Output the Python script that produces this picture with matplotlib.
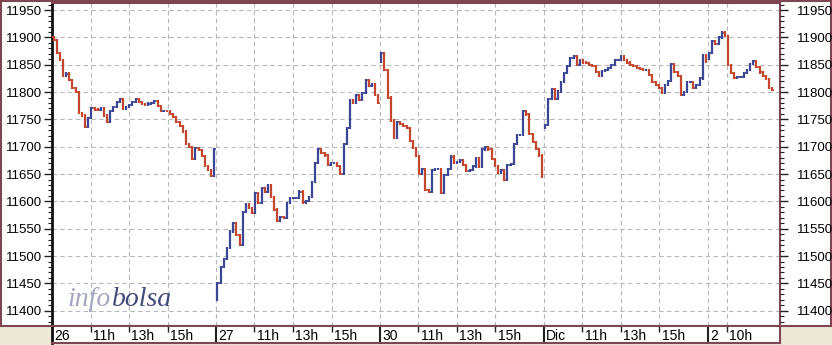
import matplotlib
matplotlib.use('Agg')
import matplotlib.pyplot as plt
from matplotlib.patches import Rectangle
import numpy as np

# ---------------- data (10-minute closes) ----------------
day_labels = ['26', '27', '30', 'Dic', '2']
hour_ticks = [[11, 13, 15], [11, 13, 15], [11, 13, 15], [11, 13, 15], [10]]
hour_labels = [['11h', '13h', '15h'], ['11h', '13h', '15h'], ['11h', '13h', '15h'],
               ['11h', '13h', '15h'], ['10h']]

opens = [11900, 11420, 11855, 11735, 11860]

close_26 = [11895, 11872, 11858, 11830, 11834, 11822, 11808, 11800, 11762, 11757,
            11737, 11752, 11770, 11768, 11767, 11770, 11757, 11745, 11765, 11772,
            11782, 11788, 11770, 11773, 11776, 11782, 11788, 11782, 11778, 11776,
            11779, 11780, 11783, 11775, 11766, 11766, 11765, 11760, 11754, 11745,
            11738, 11728, 11705, 11700, 11678, 11697, 11694, 11683, 11665, 11658,
            11646, 11695]
close_27 = [11450, 11480, 11494, 11515, 11545, 11560, 11538, 11520, 11580, 11595,
            11588, 11579, 11615, 11597, 11625, 11617, 11630, 11608, 11585, 11565,
            11572, 11570, 11597, 11606, 11606, 11606, 11618, 11598, 11601, 11608,
            11635, 11670, 11695, 11688, 11684, 11667, 11670, 11670, 11665, 11650,
            11705, 11735, 11785, 11780, 11795, 11785, 11798, 11822, 11812, 11814,
            11795, 11780]
close_30 = [11871, 11840, 11790, 11748, 11716, 11745, 11742, 11738, 11735, 11710,
            11698, 11683, 11650, 11660, 11621, 11618, 11658, 11660, 11660, 11615,
            11648, 11660, 11682, 11670, 11672, 11675, 11666, 11655, 11658, 11664,
            11679, 11664, 11695, 11700, 11695, 11678, 11665, 11653, 11658, 11640,
            11667, 11668, 11705, 11722, 11722, 11765, 11759, 11724, 11708, 11696,
            11684, 11645]
close_01 = [11740, 11788, 11806, 11787, 11801, 11819, 11835, 11847, 11862, 11866,
            11850, 11859, 11854, 11853, 11850, 11848, 11837, 11830, 11838, 11841,
            11844, 11850, 11858, 11859, 11865, 11858, 11854, 11850, 11847, 11844,
            11842, 11840, 11841, 11831, 11818, 11813, 11807, 11798, 11813, 11821,
            11852, 11837, 11830, 11795, 11800, 11818, 11819, 11807, 11813, 11825,
            11868, 11855]
close_02 = [11872, 11893, 11888, 11900, 11909, 11902, 11850, 11835, 11826, 11828,
            11828, 11835, 11840, 11852, 11856, 11846, 11836, 11830, 11824, 11808,
            11804]
closes = [close_26, close_27, close_30, close_01, close_02]

y_ticks = list(range(11400, 11951, 50))

# ---------------- style ----------------
W, H = 832, 345
MAROON = '#7d4652'
UP = '#3b4796'
DOWN = '#c4462c'
GRID = '#b8b8b8'
DAY_H = 8.5            # trading hours per day (9:00-17:30)
BARS_PER_DAY = 52
STEP = DAY_H / BARS_PER_DAY
XMAX = 37.76
YMIN, YMAX = 11372, 11963

plt.rcParams['font.family'] = ['Liberation Sans', 'DejaVu Sans']

fig = plt.figure(figsize=(W / 100, H / 100), dpi=100, facecolor='#ECE9D8')


def fr(x0, y0, x1, y1):
    return [x0 / W, 1 - y1 / H, (x1 - x0) / W, (y1 - y0) / H]


fig.patches.append(Rectangle((1 / W, 1 - 326 / H), 829.5 / W, 325 / H,
                             transform=fig.transFigure, facecolor='white',
                             edgecolor=MAROON, lw=1.5, zorder=-10))

ax = fig.add_axes(fr(52, 3, 780, 326))
ax.set_zorder(2)
ax.set_xlim(0, XMAX)
ax.set_ylim(YMIN, YMAX)

# tick positions (day boundaries + hour ticks)
tick_pos = []
for d, hrs in enumerate(hour_ticks):
    tick_pos.append(d * DAY_H)
    for h in hrs:
        tick_pos.append(d * DAY_H + (h - 9))
ax.set_xticks(tick_pos)
ax.tick_params(axis='x', length=0, labelbottom=False)
ax.set_yticks(y_ticks)
ax.set_yticks(np.arange(11380, 11961, 10), minor=True)
ax.tick_params(axis='y', which='major', length=6, width=1, pad=1.5,
               labelsize=9.5, color='#222222')
ax.tick_params(axis='y', which='minor', length=3, width=0.8, color='#222222')
ax.grid(True, which='major', color=GRID, ls=(0, (4, 3)), lw=0.8)
ax.set_axisbelow(True)

for s in ['top', 'right', 'bottom']:
    ax.spines[s].set_color(MAROON)
    ax.spines[s].set_linewidth(1.5)
ax.spines['left'].set_color('#111111')
ax.spines['left'].set_linewidth(2)

ax2 = ax.twinx()
ax2.set_ylim(YMIN, YMAX)
ax2.set_yticks(y_ticks)
ax2.set_yticks(np.arange(11380, 11961, 10), minor=True)
ax2.tick_params(axis='y', which='major', length=6, width=1, pad=6,
                labelsize=9.5, color='#222222')
ax2.tick_params(axis='y', which='minor', length=3, width=0.8, color='#222222')
for s in ax2.spines.values():
    s.set_visible(False)

# bars: vertical from previous close to close, open/close ticks
xs, lo, hi, cl, op_, cols = [], [], [], [], [], []
for d, (series, o) in enumerate(zip(closes, opens)):
    prev = o
    for i, c in enumerate(series):
        x = d * DAY_H + (i + 0.5) * STEP
        xs.append(x)
        lo.append(min(prev, c) - 2)
        hi.append(max(prev, c) + 2)
        cl.append(c)
        op_.append(prev)
        cols.append(UP if c >= prev else DOWN)
        prev = c
xs = np.array(xs)
tw = 0.45 * STEP
ax.vlines(xs, lo, hi, colors=cols, lw=1.6, zorder=3)
ax.hlines(cl, xs, xs + tw, colors=cols, lw=1.2, zorder=3)
ax.hlines(op_, xs - tw, xs, colors=cols, lw=1.2, zorder=3)

# watermark
ax.text(0.021, 0.062, 'info', transform=ax.transAxes, fontsize=20,
        family=['Liberation Serif'], style='italic', color='#a4a7c0', zorder=1)
ax.text(0.083, 0.062, 'bolsa', transform=ax.transAxes, fontsize=20,
        family=['Liberation Serif'], style='italic', color='#414a78', zorder=1)

# x label strip
axs = fig.add_axes(fr(52, 326, 780, 343))
axs.set_zorder(2)
axs.set_xlim(0, XMAX)
axs.set_ylim(0, 1)
axs.set_xticks([])
axs.set_yticks([])
for s in ['top', 'right', 'bottom']:
    axs.spines[s].set_color(MAROON)
    axs.spines[s].set_linewidth(1.5)
axs.spines['left'].set_color('#111111')
axs.spines['left'].set_linewidth(2)

off = 0.12
for d, (lab, hrs, hl) in enumerate(zip(day_labels, hour_ticks, hour_labels)):
    x0 = d * DAY_H
    if d > 0:
        axs.vlines(x0, 0, 1, colors='#222222', lw=1.5)
    axs.text(x0 + off, 0.42, lab, fontsize=10, ha='left', va='center')
    for h, t in zip(hrs, hl):
        xp = x0 + (h - 9)
        axs.vlines(xp, 0.62, 1, colors='#222222', lw=1)
        axs.text(xp + off, 0.42, t, fontsize=10, ha='left', va='center')

fig.savefig('out.png', dpi=100, facecolor=fig.get_facecolor())
